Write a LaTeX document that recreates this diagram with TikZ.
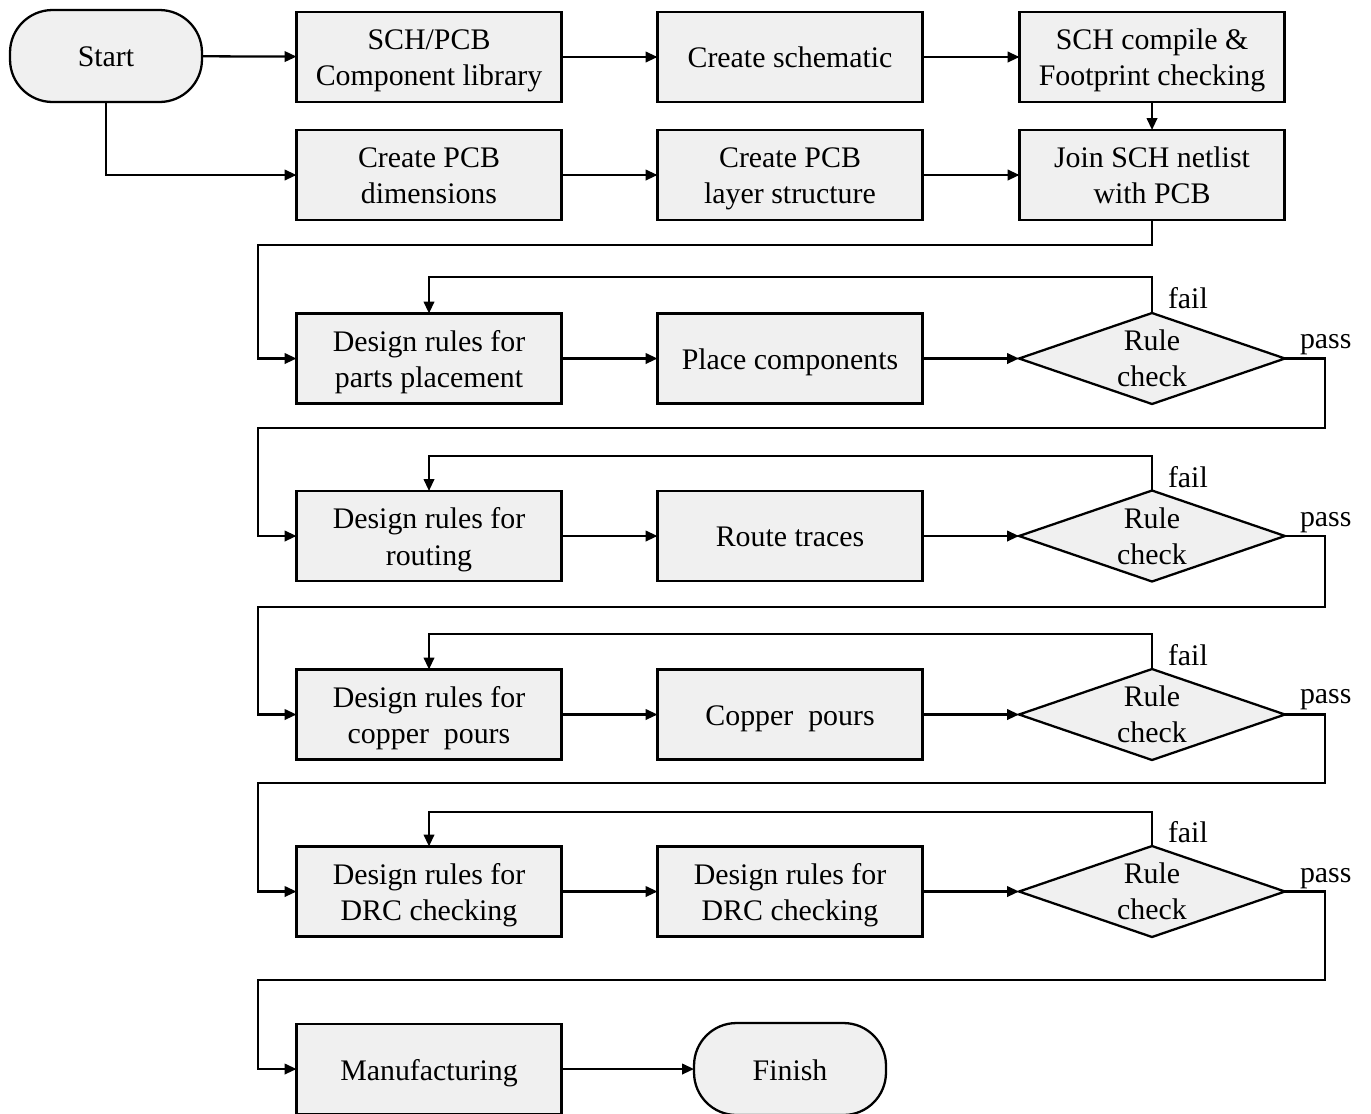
\documentclass[tikz,border=0pt]{standalone}
\usepackage{fontspec}
\setmainfont{Liberation Serif}
\usetikzlibrary{shapes.geometric,arrows.meta}
% fixed line heights so every label sits at the same place in its box
\newcommand\tstrut{\rule{0pt}{17.5pt}}
\newcommand\bstrut{\rule[-5pt]{0pt}{5pt}}
\newcommand\one[1]{\tstrut#1\bstrut}
\newcommand\two[2]{\tstrut#1\\#2\bstrut}
\begin{document}
\begin{tikzpicture}[x=0.02cm,y=-0.02cm,
  every node/.style={font=\fontsize{17}{20.5}\selectfont, align=center, inner sep=0pt, outer sep=0pt},
  proc/.style={draw, line width=1.3pt, fill=black!6, minimum width=5.3cm, minimum height=1.8cm},
  term/.style={draw, line width=1.3pt, fill=black!6, rounded corners=0.85cm, minimum width=3.84cm, minimum height=1.84cm},
  decide/.style={draw, line width=1.3pt, fill=black!6, diamond, aspect=3, minimum width=5.32cm, minimum height=1.82cm},
  flow/.style={line width=1.3pt, -{Triangle[length=0.24cm,width=0.21cm]}},
  tag/.style={anchor=base west}]
\useasboundingbox (0,0) rectangle (1371,1113);

% top rows
\node[term] (start) at (106,56) {\one{Start}};
\node[proc] (lib) at (429,57) {\two{SCH/PCB}{Component library}};
\node[proc] (sch) at (790,57) {\one{Create schematic}};
\node[proc] (comp) at (1152,57) {\two{SCH compile \&}{Footprint checking}};
\node[proc] (dims) at (429,175) {\two{Create PCB}{dimensions}};
\node[proc] (layer) at (790,175) {\two{Create PCB}{layer structure}};
\node[proc] (join) at (1152,175) {\two{Join SCH netlist}{with PCB}};

% placement loop
\node[proc] (parts) at (429,358.5) {\two{Design rules for}{parts placement}};
\node[proc] (place) at (790,358.5) {\one{Place components}};
\node[decide] (rc1) at (1152,358.5) {Rule\\check};

% routing loop
\node[proc] (rrules) at (429,536) {\two{Design rules for}{routing}};
\node[proc] (route) at (790,536) {\one{Route traces}};
\node[decide] (rc2) at (1152,536) {Rule\\check};

% copper loop
\node[proc] (crules) at (429,714.5) {\two{Design rules for}{copper\ \ pours}};
\node[proc] (pour) at (790,714.5) {\one{Copper\ \ pours}};
\node[decide] (rc3) at (1152,714.5) {Rule\\check};

% DRC loop
\node[proc] (drules) at (429,891.5) {\two{Design rules for}{DRC checking}};
\node[proc] (drc) at (790,891.5) {\two{Design rules for}{DRC checking}};
\node[decide] (rc4) at (1152,891.5) {Rule\\check};

% final row
\node[proc] (manu) at (429,1069) {\one{Manufacturing}};
\node[term] (finish) at (790,1069) {\one{Finish}};

% branch labels
\node[tag] at (1168,308) {fail};
\node[tag] at (1300,348) {pass};
\node[tag] at (1168,487) {fail};
\node[tag] at (1300,526) {pass};
\node[tag] at (1168,665) {fail};
\node[tag] at (1300,703) {pass};
\node[tag] at (1168,842) {fail};
\node[tag] at (1300,882) {pass};

% connectors
\draw[flow] (start) -- (lib);
\draw[flow] (lib) -- (sch);
\draw[flow] (sch) -- (comp);
\draw[flow] (start.south) |- (dims.west);
\draw[flow] (dims) -- (layer);
\draw[flow] (layer) -- (join);
\draw[flow] (comp) -- (join);
\draw[flow] (join.south) |- (258,245) |- (parts.west);

\draw[flow] (parts) -- (place);
\draw[flow] (place) -- (rc1);
\draw[flow] (rc1.north) |- (429,277) -- (parts.north);
\draw[flow] (rc1.east) -| (1325,428) -| (258,536) -- (rrules.west);

\draw[flow] (rrules) -- (route);
\draw[flow] (route) -- (rc2);
\draw[flow] (rc2.north) |- (429,456) -- (rrules.north);
\draw[flow] (rc2.east) -| (1325,607) -| (258,714.5) -- (crules.west);

\draw[flow] (crules) -- (pour);
\draw[flow] (pour) -- (rc3);
\draw[flow] (rc3.north) |- (429,634) -- (crules.north);
\draw[flow] (rc3.east) -| (1325,783) -| (258,891.5) -- (drules.west);

\draw[flow] (drules) -- (drc);
\draw[flow] (drc) -- (rc4);
\draw[flow] (rc4.north) |- (429,812) -- (drules.north);
\draw[flow] (rc4.east) -| (1325,980) -| (258,1069) -- (manu.west);

\draw[flow] (manu) -- (finish);
\end{tikzpicture}
\end{document}
